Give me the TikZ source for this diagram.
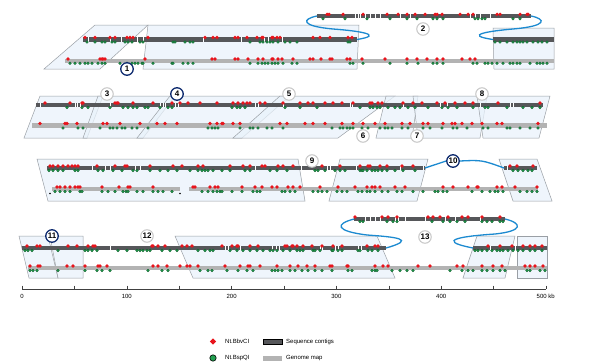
\documentclass[tikz,border=0pt]{standalone}
\usepackage{fontspec}
\setmainfont{Liberation Sans}
\definecolor{boxfill}{HTML}{E9F2FB}
\definecolor{boxline}{HTML}{9A9FA5}
\definecolor{darkbar}{HTML}{56575A}
\definecolor{lightbar}{HTML}{B3B3B3}
\definecolor{mred}{HTML}{E8141C}
\definecolor{mgreen}{HTML}{22A050}
\definecolor{mgreenline}{HTML}{0E5A28}
\definecolor{linkblue}{HTML}{1C8AD0}
\definecolor{navy}{HTML}{0D2A6E}
\newcommand\DarkBar[3]{\fill[darkbar] (#1,{#3-2.4}) rectangle (#2,{#3+2.4});}
\newcommand\LightBar[3]{\fill[lightbar] (#1,{#3-2.4}) rectangle (#2,{#3+2.4});}
\newcommand\RedMarks[2]{\foreach \p in {#2} {\fill[mred] (\p,#1) +(0,-1.8) -- +(1.8,0) -- +(0,1.8) -- +(-1.8,0) -- cycle;}}
\newcommand\GrnMarks[2]{\foreach \p in {#2} {\filldraw[fill=mgreen,draw=mgreenline,line width=0.3pt] (\p,#1) circle (1.4);}}
\newcommand\SepLines[2]{\foreach \p in {#2} {\draw[white,line width=0.6pt] (\p,{#1-2.4}) -- (\p,{#1+2.4});}}
\tikzset{
  bx/.style={fill=boxfill,fill opacity=0.75,draw=boxline,line width=0.5pt},
  link/.style={draw=linkblue,line width=1.3pt},
  lab/.style={circle,draw=gray!45,line width=1pt,fill=white,inner sep=0pt,minimum size=12.5pt,font=\fontsize{8}{8}\selectfont\bfseries},
  nlab/.style={lab,draw=navy,line width=1.3pt},
  small/.style={font=\fontsize{6}{6}\selectfont,inner sep=0pt}
}
\begin{document}
\begin{tikzpicture}[x=1pt,y=-1pt]
\useasboundingbox (0,0) rectangle (600,364);
% ---------- boxes ----------
% row 1
\draw[bx] (95,25) -- (148,25) -- (100,69) -- (44,69) -- cycle;
\draw[bx] (148,25) -- (359,25) -- (357,69) -- (143,69) -- cycle;
\draw[bx] (493,28) -- (554,28) -- (554,69) -- (494,69) -- cycle;
% row 2
\draw[bx] (40,96) -- (103,96) -- (87,138) -- (24,138) -- cycle;
\draw[bx] (98,96) -- (175,96) -- (143,138) -- (83,138) -- cycle;
\draw[bx] (170,96) -- (290,96) -- (242,138) -- (137,138) -- cycle;
\draw[bx] (280,96) -- (395,96) -- (338,138) -- (233,138) -- cycle;
\draw[bx] (386,96) -- (418,96) -- (412,138) -- (376,138) -- cycle;
\draw[bx] (413,96) -- (487,96) -- (480,138) -- (418,138) -- cycle;
\draw[bx] (477,96) -- (550,96) -- (539,138) -- (483,138) -- cycle;
% row 3
\draw[bx] (37,159) -- (298,159) -- (305,201) -- (48,201) -- cycle;
\draw[bx] (340,159) -- (428,159) -- (417,201) -- (329,201) -- cycle;
\draw[bx] (499,159) -- (537,159) -- (552,201) -- (513,201) -- cycle;
% row 4
\draw[bx] (19,236) -- (48,236) -- (58,278) -- (29,278) -- cycle;
\draw[bx] (50,236) -- (83,236) -- (83,278) -- (58,278) -- cycle;
\draw[bx] (175,236) -- (377,236) -- (395,278) -- (193,278) -- cycle;
\draw[bx] (477,236) -- (515,236) -- (505,278) -- (463,278) -- cycle;
\draw[bx] (517,236) -- (547,236) -- (547,278) -- (517,278) -- cycle;
% ---------- bars ----------
\DarkBar{317}{531}{16}
\DarkBar{83}{357}{39.5}
\DarkBar{493}{554}{39.5}
\LightBar{65}{554}{61}
\DarkBar{36}{543}{105}
\LightBar{32}{547}{125.5}
\DarkBar{47}{425}{168}
\DarkBar{504}{537}{168}
\LightBar{52}{180}{189}
\LightBar{189}{538}{189}
\DarkBar{354}{505}{219}
\DarkBar{22}{386}{248}
\DarkBar{473}{547}{248}
\LightBar{28}{547}{268}
% separators
\SepLines{16}{355,358,360,365,370,375,380,400,410,470,475,480,490}
\SepLines{39.5}{88,110,121,137,143,203,241,264,268,282}
\SepLines{105}{40,75,77,80,110,160,163,165,175,178,255,258,283,350,352,403,440,447,480,510,513}
\SepLines{168}{92,105,110,135,140,255,301,327,330,356,400,423,507}
\SepLines{219}{365,370,375,380,395,398,405,425,445,455,480}
\SepLines{248}{110,225,228,240,272,276,279,320,322,335,338,358,361,490,515}
% ---------- markers ----------
% row 1 top contig
\RedMarks{14.3}{327,329,343,363,387,398,407,415,425,435,437,442,460,468,473,497,500,520,527,528}
\GrnMarks{18.8}{323,345,367,390,407,417,433,437,443,475,478,482,485,513,520}
% row 1 contig
\RedMarks{37.5}{85,95,110,115,127,130,133,148,205,213,217,235,238,247,257,262,263,272,273,277,280,313,320,330,348,352}
\GrnMarks{42}{87,95,102,105,112,115,125,128,132,140,143,173,175,185,190,193,250,260,263,267,270,273,278,285,290,297,348,350,495,500,507,513,517,520,523,527,533,538,542,547}
% row 1 map
\RedMarks{59}{68,100,102,103,105,145,212,215,235,238,248,258,263,272,273,278,282,293,310,313,321,330,332,347,350,362,385,407,417,427,437,443,462,470,475}
\GrnMarks{63.3}{70,75,80,85,88,92,98,102,105,120,127,132,135,138,142,143,153,172,173,183,188,193,250,258,262,265,268,272,275,278,283,292,297,350,353,363,390,407,418,433,437,443,473,477,485,488,492,497,503,510,513,517,520,530,537,540,543,547}
% row 2 contig
\RedMarks{103}{45,70,82,83,115,117,118,133,153,172,180,188,200,217,233,238,243,247,250,260,265,283,300,308,313,325,333,342,353,370,372,378,382,403,413,422,437,445,455,465,473,498,540}
\GrnMarks{107.5}{67,82,88,110,123,128,133,137,145,148,160,168,172,232,237,240,245,285,300,317,360,370,373,377,380,388,395,400,408,415,428,442,448,457,473,485,488,507,523,532,540}
% row 2 map
\RedMarks{123.5}{40,65,67,77,103,107,120,140,157,165,177,210,217,222,223,233,240,280,287,305,313,325,342,353,363,375,385,402,410,423,428,443,452,455,462,472,482,497,502,538}
\GrnMarks{128}{63,78,83,100,110,113,117,122,125,132,137,148,208,212,215,218,240,250,253,258,267,272,283,332,340,343,347,350,353,362,368,380,385,388,392,402,408,423,430,442,453,457,467,483,488,507,510,520,530,538}
% row 3 contig
\RedMarks{166}{50,53,58,63,68,72,75,78,97,115,125,127,150,173,182,198,203,230,243,250,262,265,278,283,293,322,340,360,368,370,380,387,402,413,510,517,533}
\GrnMarks{170.5}{49,53,58,63,75,78,98,103,113,122,133,137,150,160,168,177,190,198,202,205,208,213,222,230,245,250,270,277,287,315,318,325,335,340,345,360,362,363,367,372,375,378,382,387,395,403,415,513,518,523,528,532}
% row 3 map
\RedMarks{187}{57,60,65,70,75,78,80,102,119,128,130,153,193,195,210,215,218,242,255,262,272,277,288,293,300,320,338,355,367,372,375,380,395,405,443,453,468,477,478,497,502,515,537}
\GrnMarks{191.5}{55,60,65,70,80,82,102,108,115,123,126,128,137,143,153,158,163,172,202,208,213,217,220,222,232,242,253,257,260,282,285,290,295,313,318,322,327,337,342,347,358,362,367,370,375,382,388,397,402,413,423,435,438,443,447,472,482,490,495,498,503,520,527,532,537}
\fill[black] (50,193.5) circle (0.9);
\fill[black] (180,193.5) circle (0.9);
% row 4 top contig
\RedMarks{217}{355,382,388,397,428,433,440,448,462,468,482,500}
\GrnMarks{221.5}{360,363,387,393,397,432,443,450,457,465,482,487,492,500,503}
% row 4 contig
\RedMarks{246}{27,37,40,68,77,88,93,95,152,153,158,165,182,187,192,222,232,237,238,250,258,285,287,292,293,297,303,312,322,333,342,367,375,378,488,500,512,523,530,535,542}
\GrnMarks{250.5}{25,28,32,58,85,88,92,97,118,127,137,140,143,147,150,162,170,177,198,205,210,213,230,237,243,250,257,263,270,273,277,283,290,297,300,303,313,315,320,332,333,338,342,358,360,368,372,378,475,478,482,487,492,497,500,503,508,513,518,523,530,535,542}
% row 4 map
\RedMarks{266}{30,38,40,67,73,85,98,100,107,153,158,167,180,187,190,198,225,240,248,250,260,277,290,298,307,315,330,332,347,348,375,383,388,418,430,457,463,482,493,502,525,530,535,543}
\GrnMarks{270.5}{30,33,37,58,85,97,102,110,148,162,168,200,208,212,227,238,247,253,272,275,278,282,290,295,302,308,315,322,332,348,352,372,375,377,392,400,407,413,450,462,468,473,482,487,493,500,505,527,530,540,545}
% ---------- links ----------
\coordinate (t1l) at (317,16);
\coordinate (t1r) at (531,16);
\coordinate (c1a) at (357,39.5);
\coordinate (c1b) at (493,39.5);
\draw[link] (t1l) .. controls (302,19) and (300,26) .. (333,29) .. controls (360,31) and (385,35) .. (c1a);
\draw[link] (t1r) .. controls (546,19) and (548,26) .. (513,29) .. controls (490,31) and (462,35) .. (c1b);
\node[nlab] (l10) at (453,161) {10};
\coordinate (c3a) at (425,168);
\coordinate (c3b) at (504,168);
\draw[link] (c3a) .. controls (436,164) .. (l10.west);
\draw[link] (l10.east) .. controls (482,160) .. (c3b);
\coordinate (t4l) at (354,219);
\coordinate (t4r) at (505,219);
\coordinate (c4a) at (386,248);
\coordinate (c4b) at (473,248);
\draw[link] (t4l) .. controls (335,224) and (335,231) .. (367,235) .. controls (395,237) and (418,239) .. (c4a);
\draw[link] (t4r) .. controls (522,223) and (524,231) .. (495,234) .. controls (465,236) and (432,240) .. (c4b);
% ---------- labels ----------
\node[nlab] (l1) at (127,69) {1};
\node[lab] (l2) at (423,29) {2};
\node[lab] (l3) at (107,94) {3};
\node[nlab] (l4) at (177,94) {4};
\node[lab] (l5) at (289,94) {5};
\node[lab] (l6) at (363,136) {6};
\node[lab] (l7) at (417,136) {7};
\node[lab] (l8) at (482,94) {8};
\node[lab] (l9) at (312,161) {9};
\node[nlab] (l11) at (52,236) {11};
\node[lab] (l12) at (147,236) {12};
\node[lab] (l13) at (425,237) {13};
% ---------- axis ----------
\draw[black!75,line width=0.5pt] (22,289) -- (546,289);
\foreach \k in {0,...,10} {\draw[black!75,line width=0.5pt] ({22+52.4*\k},285.5) -- ({22+52.4*\k},289);}
\node[small] (a0) at (22,296) {0};
\node[small] (a1) at (126.8,296) {100};
\node[small] (a2) at (231.6,296) {200};
\node[small] (a3) at (336.4,296) {300};
\node[small] (a4) at (441.2,296) {400};
\node[small,anchor=west] (a5) at (536.5,296) {500 kb};
% ---------- legend ----------
\fill[mred] (213,341.5) +(0,-3.2) -- +(3.2,0) -- +(0,3.2) -- +(-3.2,0) -- cycle;
\filldraw[fill=mgreen,draw=black,line width=0.6pt] (213,358) circle (3.2);
\filldraw[fill=darkbar,draw=black,line width=0.5pt] (263,339) rectangle (282,344.5);
\fill[lightbar] (263,355.5) rectangle (282,361);
\node[small,anchor=west] (lg1) at (225,341.5) {Nt.BbvCI};
\node[small,anchor=west] (lg2) at (225,358) {Nt.BspQI};
\node[small,anchor=west] (lg3) at (286,341.5) {Sequence contigs};
\node[small,anchor=west] (lg4) at (286,358) {Genome map};
\end{tikzpicture}
\end{document}
